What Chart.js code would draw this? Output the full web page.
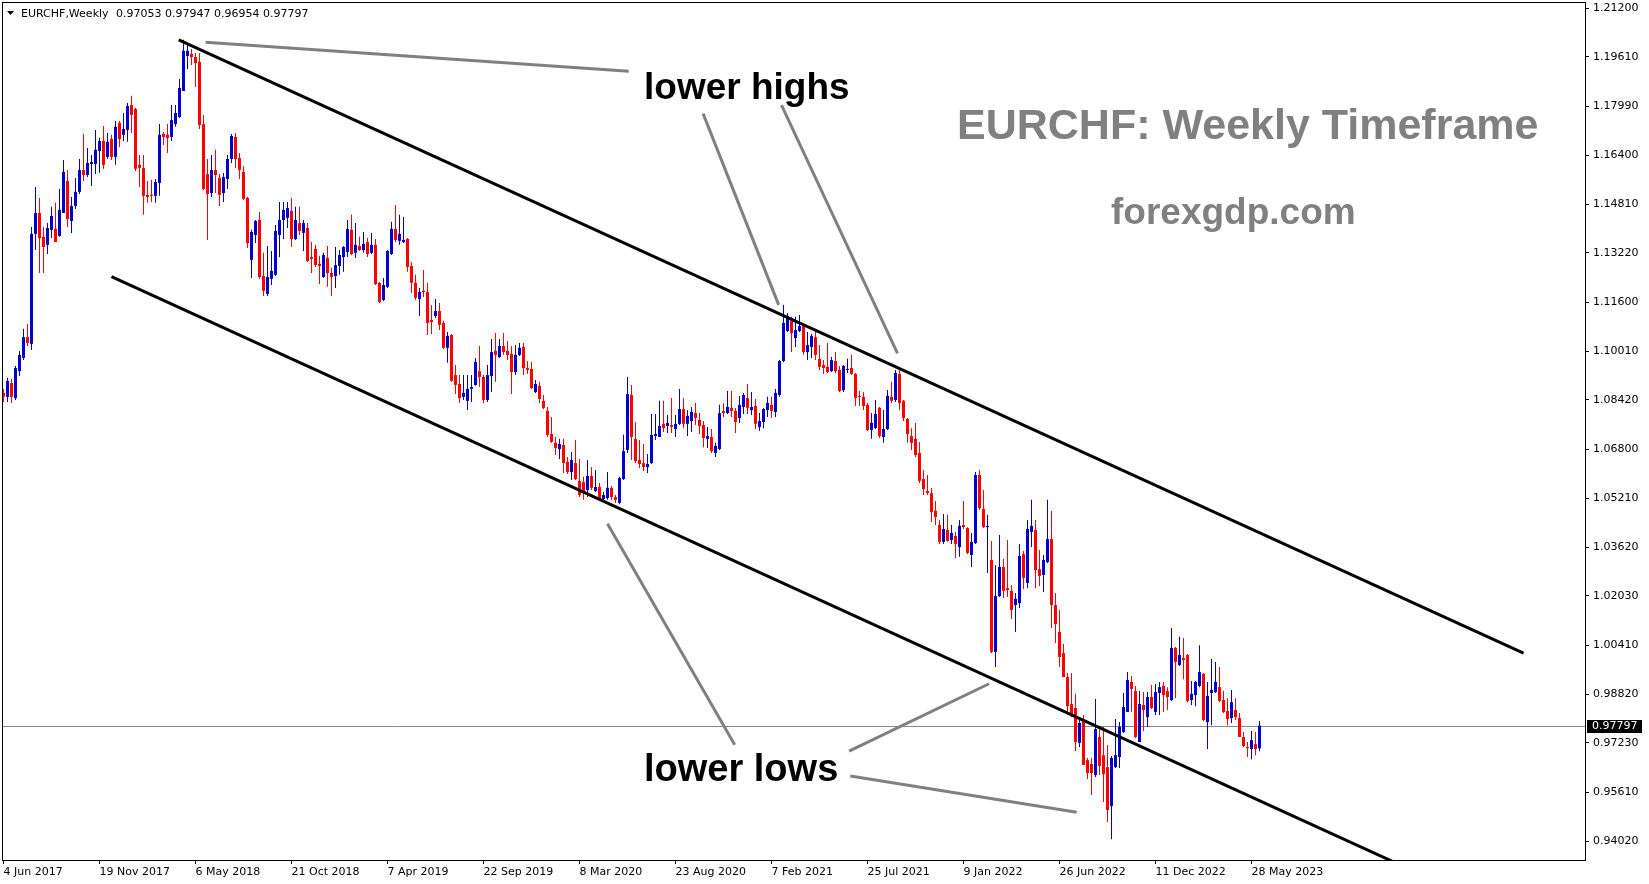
<!DOCTYPE html>
<html><head><meta charset="utf-8">
<script src="https://cdn.jsdelivr.net/npm/chart.js@4.4.0/dist/chart.umd.min.js"></script>
<style>html,body{margin:0;padding:0;background:#fff;overflow:hidden}</style>
</head><body>
<canvas id="c" width="1649" height="884"></canvas>
<script>
// ---------- DATA (EURCHF weekly) ----------
const opens = [
1.0865,1.0852,1.0897,1.0848,1.0936,1.0979,1.1047,1.1025,1.1384,1.1452,
1.1374,1.1348,1.1397,1.1400,1.1377,1.1452,1.1556,1.1426,1.1475,1.1521,
1.1592,1.1576,1.1612,1.1612,1.1654,1.1687,1.1635,1.1693,1.1635,1.1746,
1.1707,1.1723,1.1804,1.1791,1.1609,1.1599,1.1511,1.1511,1.1508,1.1550,
1.1710,1.1707,1.1700,1.1742,1.1765,1.1850,1.1964,1.1971,1.1961,1.1945,
1.1742,1.1579,1.1517,1.1592,1.1566,1.1517,1.1563,1.1628,1.1700,1.1631,
1.1586,1.1501,1.1299,1.1380,1.1429,1.1246,1.1188,1.1237,1.1250,1.1380,
1.1429,1.1436,1.1459,1.1367,1.1419,1.1387,1.1403,1.1308,1.1335,1.1286,
1.1243,1.1305,1.1256,1.1246,1.1279,1.1308,1.1325,1.1397,1.1322,1.1344,
1.1331,1.1357,1.1322,1.1348,1.1224,1.1168,1.1211,1.1318,1.1400,1.1361,
1.1357,1.1367,1.1279,1.1224,1.1171,1.1198,1.1194,1.1103,1.1116,1.1132,
1.1093,1.1012,1.1054,1.0923,1.0894,1.0852,1.0839,1.0878,1.0891,1.0936,
1.0917,1.0842,1.0920,1.1002,1.0982,1.1018,1.1002,1.0992,1.0933,1.0989,
1.1015,1.0946,1.0943,1.0868,1.0888,1.0839,1.0806,1.0731,1.0702,1.0682,
1.0695,1.0640,1.0607,1.0636,1.0578,1.0574,1.0548,1.0594,1.0545,1.0558,
1.0519,1.0522,1.0555,1.0525,1.0506,1.0584,1.0679,1.0858,1.0715,1.0646,
1.0636,1.0623,1.0636,1.0724,1.0721,1.0764,1.0757,1.0760,1.0747,1.0764,
1.0812,1.0764,1.0773,1.0799,1.0777,1.0760,1.0715,1.0721,1.0669,1.0682,
1.0806,1.0799,1.0816,1.0806,1.0783,1.0819,1.0848,1.0809,1.0822,1.0754,
1.0770,1.0809,1.0826,1.0803,1.0858,1.0969,1.1067,1.1106,1.1044,1.1067,
1.1083,1.0998,1.1015,1.1047,1.0976,1.0956,1.0950,1.0936,1.0969,1.0940,
1.0874,1.0940,1.0946,1.0927,1.0855,1.0852,1.0826,1.0744,1.0750,1.0816,
1.0721,1.0747,1.0852,1.0842,1.0927,1.0839,1.0780,1.0724,1.0715,1.0669,
1.0584,1.0545,1.0538,1.0480,1.0434,1.0379,1.0418,1.0385,1.0398,1.0362,
1.0434,1.0424,1.0336,1.0375,1.0597,1.0486,1.0427,1.0320,1.0020,1.0202,
1.0297,1.0228,1.0219,1.0173,1.0179,1.0339,1.0245,1.0411,1.0418,1.0290,
1.0271,1.0313,1.0388,1.0173,1.0085,1.0016,0.9938,0.9850,0.9837,0.9723,
0.9798,0.9667,0.9654,0.9618,0.9742,0.9683,0.9644,0.9517,0.9644,0.9677,
0.9759,0.9824,0.9922,0.9892,0.9726,0.9847,0.9807,0.9873,0.9824,0.9886,
0.9909,0.9892,0.9863,1.0033,0.9977,1.0000,1.0010,0.9863,0.9879,0.9909,
0.9948,0.9791,0.9886,0.9889,0.9905,0.9863,0.9827,0.9804,0.9830,0.9804,
0.9742,0.9710,0.9703,0.9719,0.97053];
const highs = [
1.0878,1.0914,1.0910,1.0953,1.1002,1.1074,1.1090,1.1406,1.1537,1.1501,
1.1406,1.1419,1.1472,1.1485,1.1530,1.1625,1.1592,1.1504,1.1566,1.1628,
1.1710,1.1664,1.1641,1.1723,1.1697,1.1736,1.1713,1.1707,1.1752,1.1752,
1.1778,1.1811,1.1834,1.1795,1.1641,1.1641,1.1556,1.1560,1.1563,1.1742,
1.1716,1.1742,1.1804,1.1804,1.1889,1.2017,1.2007,1.1987,1.1974,1.1974,
1.1772,1.1628,1.1641,1.1658,1.1579,1.1583,1.1641,1.1710,1.1713,1.1648,
1.1605,1.1504,1.1397,1.1429,1.1455,1.1322,1.1344,1.1328,1.1413,1.1488,
1.1488,1.1488,1.1501,1.1472,1.1472,1.1429,1.1419,1.1357,1.1348,1.1312,
1.1322,1.1344,1.1273,1.1341,1.1331,1.1344,1.1429,1.1446,1.1419,1.1374,
1.1390,1.1370,1.1387,1.1367,1.1227,1.1240,1.1331,1.1423,1.1478,1.1446,
1.1439,1.1370,1.1292,1.1250,1.1207,1.1266,1.1224,1.1152,1.1171,1.1158,
1.1100,1.1064,1.1057,1.0956,1.0923,1.0923,1.0923,1.0923,1.0979,1.1018,
1.0923,1.0956,1.1041,1.1060,1.1041,1.1060,1.1034,1.1018,1.1021,1.1028,
1.1028,1.0969,1.0966,1.0907,1.0901,1.0858,1.0819,1.0786,1.0721,1.0715,
1.0715,1.0656,1.0672,1.0711,1.0649,1.0591,1.0646,1.0623,1.0613,1.0571,
1.0542,1.0607,1.0561,1.0532,1.0591,1.0728,1.0917,1.0891,1.0770,1.0711,
1.0698,1.0666,1.0796,1.0796,1.0839,1.0839,1.0793,1.0848,1.0793,1.0878,
1.0848,1.0809,1.0819,1.0832,1.0799,1.0773,1.0754,1.0747,1.0702,1.0826,
1.0831,1.0871,1.0871,1.0816,1.0855,1.0865,1.0894,1.0868,1.0845,1.0799,
1.0816,1.0852,1.0852,1.0878,1.0972,1.1152,1.1126,1.1113,1.1113,1.1119,
1.1093,1.1064,1.1057,1.1070,1.1021,1.0972,1.1028,1.0982,1.0998,1.0953,
1.0956,1.0976,1.0989,1.0930,1.0871,1.0868,1.0832,1.0799,1.0842,1.0819,
1.0809,1.0874,1.0901,1.0940,1.0943,1.0842,1.0783,1.0750,1.0767,1.0705,
1.0613,1.0597,1.0555,1.0512,1.0450,1.0470,1.0467,1.0434,1.0411,1.0450,
1.0512,1.0427,1.0408,1.0607,1.0613,1.0548,1.0467,1.0382,1.0303,1.0401,
1.0323,1.0385,1.0238,1.0212,1.0372,1.0349,1.0450,1.0516,1.0450,1.0352,
1.0336,1.0516,1.0480,1.0212,1.0157,1.0046,0.9951,0.9951,0.9883,0.9801,
0.9814,0.9674,0.9674,0.9866,0.9775,0.9775,0.9716,0.9680,0.9801,0.9791,
0.9886,0.9954,0.9941,0.9909,0.9892,0.9889,0.9889,0.9912,0.9915,0.9922,
0.9922,0.9905,1.0098,1.0036,1.0069,1.0065,1.0013,0.9925,0.9925,1.0042,
0.9951,0.9922,0.9997,0.9987,0.9971,0.9892,0.9869,0.9896,0.9869,0.9821,
0.9759,0.9726,0.9762,0.9759,0.97947];
const lows = [
1.0835,1.0835,1.0832,1.0842,1.0920,1.0972,1.1018,1.1005,1.1331,1.1256,
1.1256,1.1318,1.1370,1.1357,1.1374,1.1452,1.1406,1.1387,1.1465,1.1514,
1.1556,1.1569,1.1540,1.1579,1.1583,1.1596,1.1628,1.1625,1.1609,1.1667,
1.1687,1.1684,1.1713,1.1589,1.1537,1.1446,1.1485,1.1488,1.1485,1.1508,
1.1674,1.1648,1.1687,1.1733,1.1762,1.1850,1.1922,1.1935,1.1863,1.1726,
1.1527,1.1364,1.1504,1.1517,1.1475,1.1488,1.1530,1.1615,1.1599,1.1563,
1.1494,1.1338,1.1240,1.1354,1.1237,1.1181,1.1181,1.1217,1.1246,1.1308,
1.1367,1.1403,1.1341,1.1364,1.1380,1.1328,1.1292,1.1256,1.1276,1.1220,
1.1240,1.1211,1.1181,1.1207,1.1250,1.1260,1.1308,1.1315,1.1305,1.1328,
1.1322,1.1308,1.1318,1.1217,1.1158,1.1165,1.1207,1.1315,1.1357,1.1348,
1.1354,1.1260,1.1191,1.1168,1.1116,1.1178,1.1054,1.1057,1.1109,1.1070,
1.1008,1.0963,1.0901,1.0861,1.0832,1.0842,1.0809,1.0835,1.0888,1.0884,
1.0831,1.0835,1.0868,1.0901,1.0979,1.0989,1.0972,1.0861,1.0923,1.0985,
1.0923,1.0927,1.0878,1.0865,1.0832,1.0812,1.0721,1.0702,1.0662,1.0649,
1.0604,1.0600,1.0581,1.0581,1.0525,1.0516,1.0525,1.0548,1.0542,1.0516,
1.0509,1.0516,1.0516,1.0506,1.0502,1.0581,1.0669,1.0646,1.0636,1.0620,
1.0610,1.0604,1.0633,1.0711,1.0721,1.0737,1.0734,1.0734,1.0721,1.0760,
1.0750,1.0724,1.0737,1.0760,1.0731,1.0688,1.0685,1.0669,1.0656,1.0679,
1.0786,1.0796,1.0786,1.0734,1.0767,1.0796,1.0796,1.0793,1.0747,1.0741,
1.0750,1.0786,1.0783,1.0786,1.0852,1.0966,1.1064,1.0998,1.1015,1.1064,
1.0989,1.0972,1.0979,1.0972,1.0940,1.0927,1.0930,1.0933,1.0930,1.0868,
1.0868,1.0930,1.0923,1.0822,1.0822,1.0809,1.0741,1.0715,1.0747,1.0718,
1.0702,1.0744,1.0832,1.0835,1.0809,1.0773,1.0702,1.0679,1.0656,1.0571,
1.0532,1.0532,1.0444,1.0434,1.0372,1.0372,1.0379,1.0372,1.0326,1.0330,
1.0421,1.0339,1.0297,1.0372,1.0483,1.0424,1.0277,1.0016,0.9971,1.0199,
1.0196,1.0199,1.0127,1.0085,1.0163,1.0225,1.0228,1.0362,1.0228,1.0235,
1.0215,1.0310,1.0098,1.0049,0.9971,0.9938,0.9814,0.9807,0.9697,0.9710,
0.9651,0.9605,0.9553,0.9612,0.9618,0.9530,0.9465,0.9409,0.9641,0.9641,
0.9755,0.9824,0.9824,0.9739,0.9726,0.9762,0.9775,0.9834,0.9814,0.9814,
0.9824,0.9830,0.9860,0.9869,0.9974,0.9931,0.9856,0.9847,0.9843,0.9905,
0.9794,0.9703,0.9781,0.9886,0.9856,0.9821,0.9781,0.9788,0.9798,0.9742,
0.9710,0.9677,0.9670,0.9683,0.96954];
const closes = [
1.0852,1.0904,1.0852,1.0946,1.0989,1.1047,1.1028,1.1384,1.1452,1.1370,
1.1341,1.1403,1.1442,1.1357,1.1462,1.1586,1.1432,1.1475,1.1521,1.1592,
1.1576,1.1615,1.1618,1.1658,1.1687,1.1609,1.1684,1.1635,1.1733,1.1693,
1.1726,1.1801,1.1772,1.1596,1.1599,1.1508,1.1504,1.1508,1.1553,1.1707,
1.1700,1.1697,1.1755,1.1778,1.1860,1.1981,1.1981,1.1961,1.1941,1.1739,
1.1530,1.1514,1.1592,1.1576,1.1511,1.1569,1.1628,1.1703,1.1628,1.1592,
1.1498,1.1354,1.1390,1.1426,1.1243,1.1198,1.1243,1.1263,1.1393,1.1429,
1.1462,1.1468,1.1367,1.1429,1.1393,1.1419,1.1295,1.1302,1.1282,1.1279,
1.1315,1.1256,1.1243,1.1282,1.1315,1.1341,1.1400,1.1318,1.1348,1.1331,
1.1351,1.1318,1.1348,1.1220,1.1162,1.1217,1.1328,1.1400,1.1364,1.1384,
1.1364,1.1276,1.1224,1.1175,1.1194,1.1194,1.1093,1.1096,1.1132,1.1087,
1.1012,1.1051,1.0904,1.0891,1.0848,1.0865,1.0878,1.0884,1.0966,1.0917,
1.0842,1.0923,1.0998,1.0989,1.1018,1.0998,1.0989,1.0933,1.0989,1.1012,
1.0946,1.0940,1.0881,1.0894,1.0845,1.0816,1.0728,1.0705,1.0685,1.0698,
1.0636,1.0607,1.0646,1.0584,1.0532,1.0538,1.0594,1.0555,1.0558,1.0519,
1.0532,1.0555,1.0525,1.0516,1.0587,1.0675,1.0861,1.0721,1.0643,1.0633,
1.0623,1.0633,1.0728,1.0731,1.0757,1.0750,1.0767,1.0754,1.0764,1.0812,
1.0764,1.0790,1.0803,1.0783,1.0757,1.0718,1.0724,1.0675,1.0692,1.0799,
1.0799,1.0819,1.0806,1.0770,1.0826,1.0858,1.0816,1.0819,1.0764,1.0773,
1.0812,1.0832,1.0806,1.0865,1.0969,1.1093,1.1116,1.1060,1.1070,1.1083,
1.0998,1.1021,1.1051,1.0989,1.0950,1.0946,1.0933,1.0972,1.0936,1.0871,
1.0953,1.0943,1.0927,1.0848,1.0852,1.0822,1.0744,1.0767,1.0796,1.0724,
1.0747,1.0855,1.0839,1.0930,1.0832,1.0783,1.0731,1.0702,1.0662,1.0578,
1.0551,1.0538,1.0476,1.0460,1.0379,1.0421,1.0382,1.0408,1.0372,1.0431,
1.0427,1.0343,1.0379,1.0597,1.0489,1.0427,1.0431,1.0020,1.0202,1.0297,
1.0219,1.0222,1.0157,1.0193,1.0333,1.0261,1.0421,1.0431,1.0287,1.0268,
1.0320,1.0388,1.0173,1.0111,1.0003,0.9938,0.9843,0.9814,0.9726,0.9788,
0.9651,0.9625,0.9625,0.9768,0.9648,0.9621,0.9504,0.9674,0.9683,0.9775,
0.9840,0.9928,0.9899,0.9742,0.9850,0.9830,0.9873,0.9837,0.9889,0.9905,
0.9879,0.9873,1.0033,0.9987,1.0010,0.9993,0.9860,0.9883,0.9922,0.9954,
0.9798,0.9876,0.9896,0.9922,0.9860,0.9824,0.9801,0.9856,0.9807,0.9742,
0.9713,0.9706,0.9732,0.9703,0.97797];

// x-axis tick labels (one every 24 weekly bars) and their bar positions
const xTickIndex  = [0, 24, 48, 72, 96, 120, 144, 168, 192, 216, 240, 264, 288, 312];
const xTickLabels = ['4 Jun 2017','19 Nov 2017','6 May 2018','21 Oct 2018','7 Apr 2019','22 Sep 2019',
  '8 Mar 2020','23 Aug 2020','7 Feb 2021','25 Jul 2021','9 Jan 2022','26 Jun 2022','11 Dec 2022','28 May 2023'];
// y-axis (price) ticks
const yTickValues = [1.2120, 1.1961, 1.1799, 1.1640, 1.1481, 1.1322, 1.1160, 1.1001, 1.0842,
  1.0680, 1.0521, 1.0362, 1.0203, 1.0041, 0.9882, 0.9723, 0.9561, 0.9402];

// channel lines (bar position, price)
const channelUpper = [{x: 43.8, y: 1.2017}, {x: 380.0, y: 1.0016}];
const channelLower = [{x: 27.0, y: 1.1244}, {x: 349.0, y: 0.9326}];
// grey pointer lines from the labels
const pointerHighs = [
  [{x: 50.5, y: 1.2009}, {x: 156.3, y: 1.1914}],
  [{x: 174.9, y: 1.1776}, {x: 193.8, y: 1.1152}],
  [{x: 194.5, y: 1.1804}, {x: 223.5, y: 1.0994}]
];
const pointerLows = [
  [{x: 151.0, y: 1.0438}, {x: 182.8, y: 0.9717}],
  [{x: 211.4, y: 0.9696}, {x: 246.4, y: 0.9916}],
  [{x: 211.7, y: 0.9615}, {x: 268.3, y: 0.9497}]
];

// ---------- CHART ----------
const UP = '#0000cd', DOWN = '#ff0000';
const last = closes.length - 1;
const lastPrice = closes[last];
const candleColors = closes.map((c, i) => c >= opens[i] ? UP : DOWN);
const wickData = lows.map((l, i) => ({x: i, y: [l, highs[i]]}));
const bodyData = opens.map((o, i) => ({x: i, y: [o, closes[i]]}));

const lineDs = (data, color) => ({
  type: 'line', data, borderColor: color, borderWidth: 3, pointRadius: 0,
  fill: false, tension: 0, order: 0, borderCapStyle: 'butt'
});

const fontTick = {family: 'DejaVu Sans', size: 11};

const overlay = {
  id: 'overlay',
  beforeDatasetsDraw(chart) {
    const {ctx, chartArea: a, scales: {y}} = chart;
    const py = Math.round(y.getPixelForValue(lastPrice)) + 0.5;
    ctx.save();
    ctx.strokeStyle = '#7d8b99';
    ctx.lineWidth = 1;
    ctx.beginPath(); ctx.moveTo(a.left, py); ctx.lineTo(a.right, py); ctx.stroke();
    ctx.restore();
  },
  afterDatasetsDraw(chart) {
    const {ctx, chartArea: a} = chart;
    ctx.save();
    // frame
    ctx.strokeStyle = '#000'; ctx.lineWidth = 1;
    ctx.strokeRect(a.left - 0.5, a.top - 0.5, a.right - a.left + 1, a.bottom - a.top + 1);
    // header
    ctx.fillStyle = '#000';
    ctx.beginPath(); ctx.moveTo(7, 11); ctx.lineTo(14, 11); ctx.lineTo(10.5, 15); ctx.closePath(); ctx.fill();
    ctx.font = '11px "DejaVu Sans"'; ctx.textBaseline = 'alphabetic'; ctx.textAlign = 'left';
    ctx.fillText('EURCHF,Weekly', 21, 17);
    ctx.fillText([opens[last], highs[last], lows[last], closes[last]].map(v => v.toFixed(5)).join(' '), 116, 17);
    // annotations
    ctx.font = 'bold 37px "Liberation Sans"';
    ctx.fillStyle = '#000';
    ctx.fillText('lower highs', 644, 99);
    ctx.font = 'bold 38px "Liberation Sans"';
    ctx.fillText('lower lows', 644, 781);
    ctx.fillStyle = '#808080';
    ctx.font = 'bold 43px "Liberation Sans"';
    ctx.fillText('EURCHF: Weekly Timeframe', 957, 139);
    ctx.font = 'bold 37px "Liberation Sans"';
    ctx.fillText('forexgdp.com', 1111, 224);
    ctx.restore();
  },
  afterDraw(chart) {
    const {ctx, chartArea: a, scales: {y}} = chart;
    const py = Math.round(y.getPixelForValue(lastPrice));
    ctx.save();
    ctx.fillStyle = '#000';
    ctx.fillRect(a.right + 2, py - 6, 55, 13);
    ctx.fillStyle = '#fff';
    ctx.font = '11px "DejaVu Sans"'; ctx.textBaseline = 'middle'; ctx.textAlign = 'left';
    ctx.fillText(lastPrice.toFixed(5), a.right + 7, py + 0.5);
    ctx.restore();
  }
};

new Chart(document.getElementById('c'), {
  type: 'bar',
  data: {
    datasets: [
      lineDs(channelUpper, '#000'),
      lineDs(channelLower, '#000'),
      ...pointerHighs.map(d => lineDs(d, '#808080')),
      ...pointerLows.map(d => lineDs(d, '#808080')),
      {type: 'bar', data: wickData, backgroundColor: candleColors, barThickness: 1, grouped: false,
       minBarLength: 1, borderWidth: 0, inflateAmount: 0, order: 2},
      {type: 'bar', data: bodyData, backgroundColor: candleColors, barThickness: 3, grouped: false,
       minBarLength: 1, borderWidth: 0, inflateAmount: 0, order: 1}
    ]
  },
  options: {
    responsive: false,
    devicePixelRatio: 1,
    animation: false,
    events: [],
    layout: {padding: {left: 3, top: 3, right: 0, bottom: 0}},
    plugins: {legend: {display: false}, tooltip: {enabled: false}},
    scales: {
      x: {
        type: 'linear', offset: false, min: -0.125, max: 395.375,
        grid: {offset: false, drawOnChartArea: false, drawTicks: true, tickLength: 4, color: '#000', tickColor: '#000'},
        border: {display: false},
        afterBuildTicks: s => { s.ticks = xTickIndex.map(v => ({value: v})); },
        afterFit: s => { s.height = 24; s.paddingLeft = 0; s.paddingRight = 0; },
        ticks: {autoSkip: false, maxRotation: 0, align: 'start', padding: 2, color: '#000', font: fontTick,
                callback: (v, i) => xTickLabels[i]}
      },
      y: {
        type: 'linear', position: 'right', min: 0.9341, max: 1.2137,
        grid: {drawOnChartArea: false, drawTicks: true, tickLength: 4, color: '#000', tickColor: '#000'},
        border: {display: false},
        afterBuildTicks: s => { s.ticks = yTickValues.map(v => ({value: v})); },
        afterFit: s => { s.width = 64; s.paddingTop = 0; s.paddingBottom = 0; },
        ticks: {padding: 4, color: '#000', font: fontTick, callback: v => Number(v).toFixed(5)}
      }
    }
  },
  plugins: [overlay]
});
</script>
</body></html>
